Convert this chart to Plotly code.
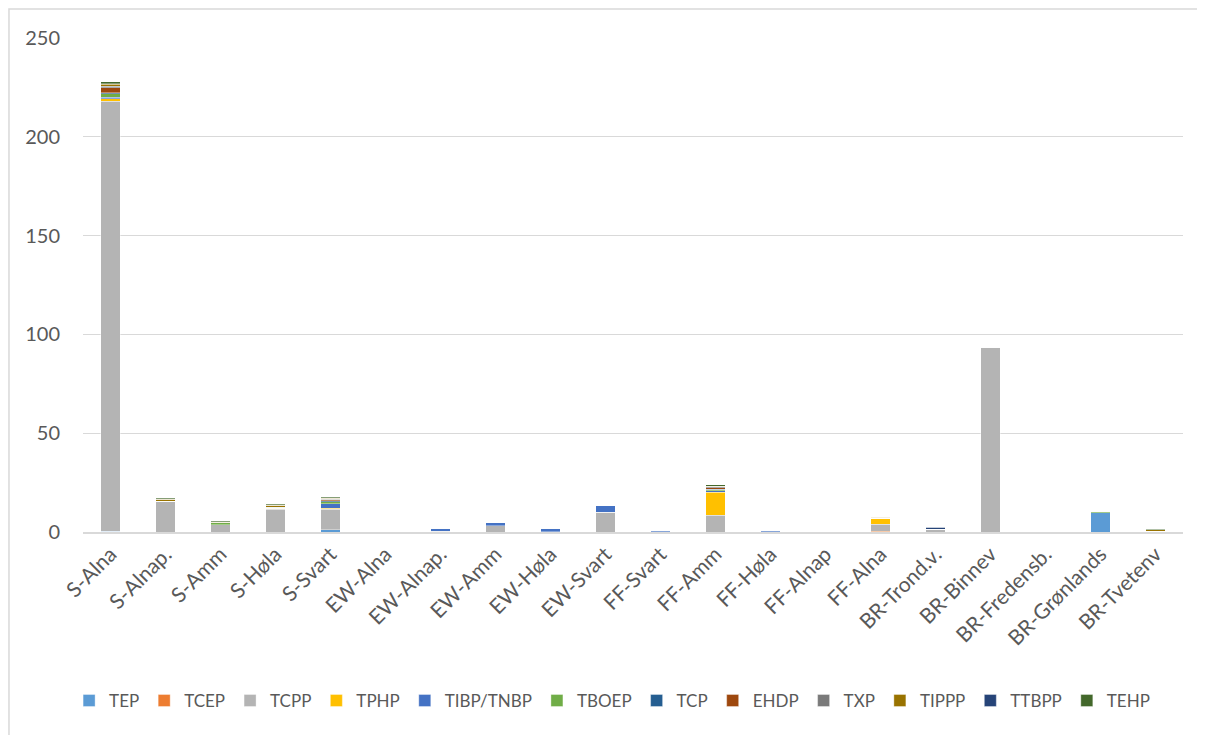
import plotly.graph_objects as go

categories = ["S-Alna", "S-Alnap.", "S-Amm", "S-Høla", "S-Svart", "EW-Alna", "EW-Alnap.", "EW-Amm",
              "EW-Høla", "EW-Svart", "FF-Svart", "FF-Amm", "FF-Høla", "FF-Alnap", "FF-Alna",
              "BR-Trond.v.", "BR-Binnev", "BR-Fredensb.", "BR-Grønlands", "BR-Tvetenv"]

TEP   = [0.3, 0, 0, 0, 1.2, 0, 0, 0, 0, 0, 0, 0, 0, 0, 0, 0, 0, 0, 9.8, 0]
TCEP  = [0.2, 0, 0, 0, 0, 0, 0, 0, 0, 0, 0, 0, 0, 0, 0.4, 0, 0, 0, 0, 0]
TCPP  = [217.5, 15.2, 3.7, 11.6, 10.3, 0, 0.3, 3.2, 0.2, 10.0, 0.2, 8.6, 0.1, 0, 3.5, 1.3, 93.6, 0, 0, 0.3]
TPHP  = [1.2, 0.2, 0, 0.3, 0.4, 0, 0, 0, 0, 0, 0, 11.5, 0, 0, 3.0, 0, 0, 0, 0, 0]
TIBP  = [0.8, 0, 0, 0, 2.5, 0, 1.6, 1.5, 1.8, 3.2, 0.8, 0.7, 0.8, 0, 0, 0, 0, 0, 0, 0]
TBOEP = [1.8, 0.2, 1.0, 0.2, 0.8, 0, 0, 0, 0, 0, 0, 0.6, 0, 0, 0, 0, 0, 0, 0.8, 0]
TCP   = [0.6, 0, 0, 0.4, 0.5, 0, 0, 0, 0, 0, 0, 0.2, 0, 0, 0, 0, 0, 0, 0, 0]
EHDP  = [2.5, 0, 0, 0, 0.5, 0, 0, 0, 0, 0, 0, 0.9, 0, 0, 0, 0, 0, 0, 0, 0]
TXP   = [0.6, 0, 0, 0, 0.3, 0, 0, 0, 0, 0, 0, 0.3, 0, 0, 0, 0, 0, 0, 0, 0]
TIPPP = [1.2, 1.1, 0.2, 1.0, 0.5, 0, 0, 0, 0, 0, 0, 0.3, 0, 0, 0.6, 0, 0, 0, 0, 0.8]
TTBPP = [0.2, 0, 0, 0, 0, 0, 0, 0, 0, 0, 0, 0, 0, 0, 0, 1.0, 0, 0, 0, 0]
TEHP  = [1.0, 0.3, 0.5, 0.5, 0.7, 0, 0, 0, 0, 0, 0, 0.8, 0, 0, 0, 0, 0, 0, 0, 0.3]

series_names = ["TEP", "TCEP", "TCPP", "TPHP", "TIBP/TNBP", "TBOEP", "TCP", "EHDP", "TXP", "TIPPP", "TTBPP", "TEHP"]
series_values = [TEP, TCEP, TCPP, TPHP, TIBP, TBOEP, TCP, EHDP, TXP, TIPPP, TTBPP, TEHP]
colors = ["#5B9BD5", "#ED7D31", "#B4B4B4", "#FFC000", "#4472C4", "#70AD47",
          "#255E91", "#9E480E", "#7A7A7A", "#997300", "#264478", "#43682B"]

y_ticks = [0, 50, 100, 150, 200, 250]

fig = go.Figure()
for name, vals, col in zip(series_names, series_values, colors):
    fig.add_trace(go.Bar(x=categories, y=vals, name=name,
                         marker=dict(color=col, line=dict(color="rgba(255,255,255,0.6)", width=0.6))))

font_family = "Lato, 'Open Sans', sans-serif"
fig.update_layout(
    barmode="stack",
    bargap=0.64,
    width=1205, height=735,
    paper_bgcolor="white", plot_bgcolor="white",
    margin=dict(l=75, r=30, t=30, b=211, autoexpand=False),
    font=dict(family=font_family, size=17, color="#595959"),
    legend=dict(orientation="h", x=0.481, xanchor="center", y=-0.342, yanchor="middle",
                font=dict(size=17, color="#595959"), traceorder="normal", itemwidth=30),
    showlegend=True,
)
fig.update_yaxes(range=[0, 250], tickvals=y_ticks, showgrid=True, gridcolor="#D9D9D9",
                 gridwidth=1, zeroline=False, showline=False, ticks="", ticklabelstandoff=22,
                 tickfont=dict(size=20, color="#595959"))
fig.update_xaxes(showline=True, linecolor="#D9D9D9", linewidth=1.5, tickangle=-45, ticks="",
                 tickfont=dict(size=21, color="#595959"))
fig.add_shape(type="rect", xref="paper", yref="paper", x0=-0.0673, x1=1.06, y0=-0.5, y1=1.0587,
              line=dict(color="#D9D9D9", width=1.5), fillcolor="rgba(0,0,0,0)", layer="below")

fig.write_html("out.html")
